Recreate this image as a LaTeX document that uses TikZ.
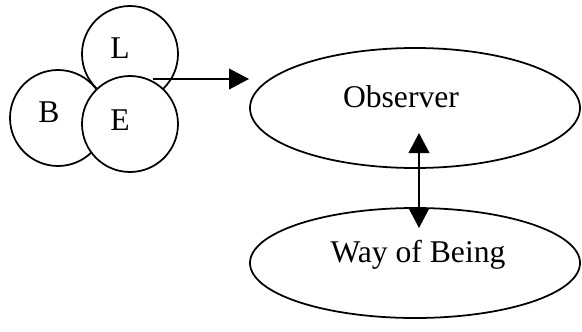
\documentclass[tikz,border=0pt]{standalone}
\usepackage{fontspec}
\setmainfont{Liberation Serif}
\usepackage{tikz}
\usetikzlibrary{arrows.meta}
\usetikzlibrary{shapes.geometric}
\tikzset{
    tnode/.style = {align=center, inner sep=0pt, text centered},
    ring_node/.style = {tnode, circle, draw=black, fill=white, line width=1.5pt, minimum size=2.88cm},
    oval_node/.style = {tnode, ellipse, draw=black, fill=white, line width=1.5pt, minimum width=9.9cm},
    word/.style = {tnode, font=\fontsize{27}{30}\selectfont},
    link/.style = {line width=1.5pt, -{Triangle[length=0.6cm, width=0.62cm]}},
    dlink/.style = {line width=1.5pt, {Triangle[length=0.6cm, width=0.62cm]}-{Triangle[length=0.6cm, width=0.62cm]}}
}

\begin{document}
\begin{tikzpicture}[x=0.03cm, y=-0.03cm]
    \useasboundingbox (0,0) rectangle (582,331);
    \node [ring_node] (l) at (130,54) {};
    \node [ring_node] (b) at (58,118) {};
    \node [ring_node] (e) at (130,124) {};
    \node [word] (lt) at (120,48) {L};
    \node [word] (bt) at (49,112) {B};
    \node [word] (et) at (120,120) {E};
    \node [oval_node, minimum height=3.6cm] (obs) at (415,108) {};
    \node [oval_node, minimum height=3.3cm] (wob) at (415,263) {};
    \node [word] (obst) at (401,97) {Observer};
    \node [word] (wobt) at (418,255) {Way of Being};
    \coordinate (from) at (153,79);
    \coordinate (to) at (249,79);
    \coordinate (up) at (419,133);
    \coordinate (down) at (419,228);
    \draw [link] (from) -- (to);
    \draw [dlink] (up) -- (down);
\end{tikzpicture}
\end{document}
